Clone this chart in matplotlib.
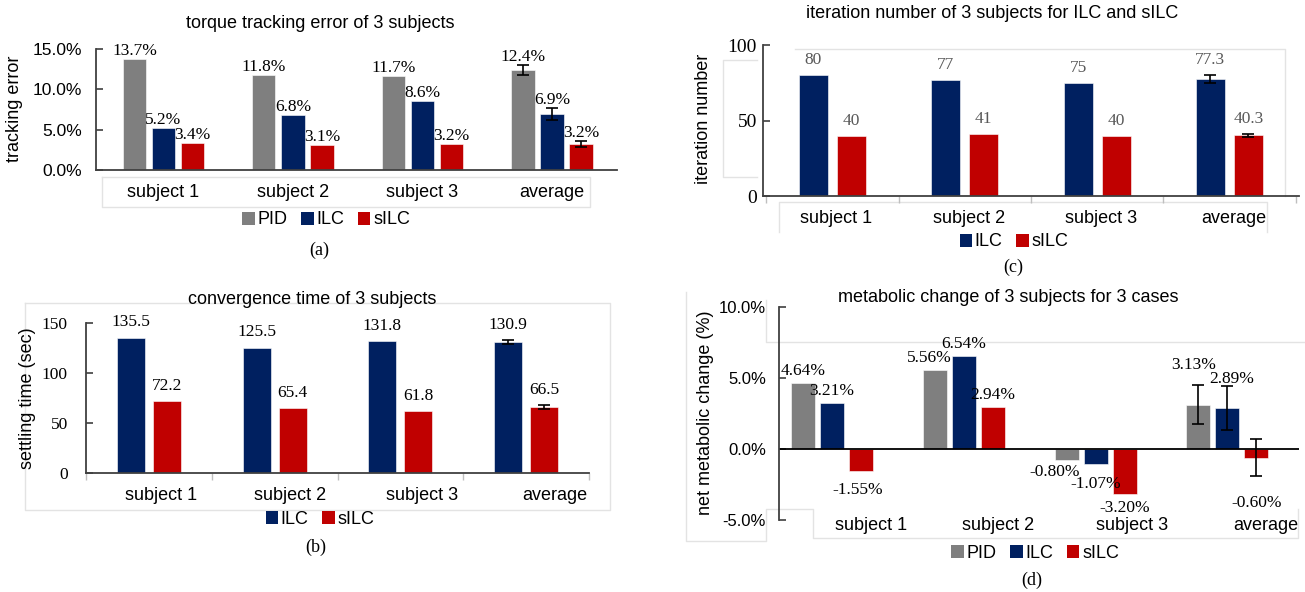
import matplotlib
matplotlib.use("Agg")
import matplotlib.pyplot as plt
from matplotlib.patches import Patch
from matplotlib.lines import Line2D
import numpy as np

# ---------------------------------------------------------------- data
categories = ["subject 1", "subject 2", "subject 3", "average"]

# (a) torque tracking error (%)
track_pid = [13.7, 11.8, 11.7, 12.4]
track_ilc = [5.2, 6.8, 8.6, 6.9]
track_silc = [3.4, 3.1, 3.2, 3.2]
track_pid_sd = [0, 0, 0, 0.6]
track_ilc_sd = [0, 0, 0, 0.75]
track_silc_sd = [0, 0, 0, 0.35]

# (b) convergence / settling time (sec)
settle_ilc = [135.5, 125.5, 131.8, 130.9]
settle_silc = [72.2, 65.4, 61.8, 66.5]
settle_ilc_sd = [0, 0, 0, 2.2]
settle_silc_sd = [0, 0, 0, 2.0]

# (c) iteration number
iter_ilc = [80, 77, 75, 77.3]
iter_silc = [40, 41, 40, 40.3]
iter_ilc_sd = [0, 0, 0, 2.6]
iter_silc_sd = [0, 0, 0, 0.9]

# (d) net metabolic change (%)
meta_pid = [4.64, 5.56, -0.80, 3.13]
meta_ilc = [3.21, 6.54, -1.07, 2.89]
meta_silc = [-1.55, 2.94, -3.20, -0.60]
meta_pid_sd = [0, 0, 0, 1.37]
meta_ilc_sd = [0, 0, 0, 1.55]
meta_silc_sd = [0, 0, 0, 1.3]

# ---------------------------------------------------------------- style
W, H = 1305, 592
SANS = "Liberation Sans"
SERIF = "Liberation Serif"
C_PID = "#7f7f7f"
C_ILC = "#002060"
C_SILC = "#c00000"
AXIS_C = "#404040"
FAINT = "#e3e3e3"
VALUE_SIZE = 12.5

fig = plt.figure(figsize=(W / 100, H / 100), dpi=100)


def px_rect(left, top, right, bottom):
    return [left / W, 1 - bottom / H, (right - left) / W, (bottom - top) / H]


def fx(x):
    return x / W


def fy(y):
    return 1 - y / H


def pt(px):
    return px * 72 / 100


def faint_path(points):
    xs = [fx(p[0]) for p in points]
    ys = [fy(p[1]) for p in points]
    fig.add_artist(Line2D(xs, ys, color=FAINT, lw=1.0, zorder=0))


def draw_group(ax, series, sds, colors, offsets, width, fmt, label_color,
               up_px, down_px, nudges=None):
    """Bars, error bars and value labels; nudges shift single labels (px)."""
    nudges = nudges or {}
    pos = np.arange(len(categories))
    for k, (vals, sd, col, off) in enumerate(zip(series, sds, colors,
                                                 offsets)):
        x = pos + off
        ax.bar(x, vals, width=width, color=col, edgecolor="white",
               linewidth=0.4, zorder=2)
        sd = np.asarray(sd, dtype=float)
        m = sd > 0
        if m.any():
            ax.errorbar(x[m], np.asarray(vals)[m], yerr=sd[m], fmt="none",
                        ecolor="black", elinewidth=1.2, capsize=4,
                        capthick=1.2, zorder=3)
        for i, (xi, v, s) in enumerate(zip(x, vals, sd)):
            if v >= 0:
                anchor, dy = v + s, up_px
            else:
                anchor, dy = v - s, -down_px
            ndx, ndy = nudges.get((k, i), (0, 0))
            ax.annotate(fmt(v), xy=(xi, anchor),
                        xytext=(pt(ndx), pt(dy - ndy)),
                        textcoords="offset points", ha="center", va="center",
                        fontsize=VALUE_SIZE, family=SERIF, color=label_color,
                        zorder=4)


def style_axis(ax, ylim, ticks, tick_fmt, tick_family, tick_size, tick_pad):
    ax.set_ylim(*ylim)
    ax.set_yticks(ticks)
    ax.set_yticklabels([tick_fmt(t) for t in ticks], family=tick_family,
                       fontsize=tick_size)
    ax.tick_params(axis="y", direction="in", length=5, width=1.2,
                   color=AXIS_C, pad=tick_pad)
    for s in ("top", "right"):
        ax.spines[s].set_visible(False)
    ax.spines["left"].set_color(AXIS_C)
    ax.spines["left"].set_linewidth(1.3)
    ax.spines["bottom"].set_color(AXIS_C)
    ax.spines["bottom"].set_linewidth(1.3)
    ax.set_facecolor("none")


def y_title(text, cx, cy):
    fig.text(fx(cx), fy(cy), text, rotation=90, ha="center", va="center",
             family=SANS, fontsize=13)


def cat_labels(ax, xs, y_axes):
    ax.set_xticks([])
    tr = ax.get_xaxis_transform()
    for x, c in zip(xs, categories):
        ax.text(x, y_axes, c, transform=tr, ha="center", va="center",
                family=SANS, fontsize=13, clip_on=False)


def boundary_ticks(ax):
    ax.set_xticks([-0.5, 0.5, 1.5, 2.5, 3.5], minor=True)
    ax.tick_params(axis="x", which="minor", direction="out", length=5,
                   color="#bfbfbf", width=1.0)


def legend(names, colors, cx, cy):
    handles = [Patch(facecolor=c, edgecolor="none", label=n)
               for n, c in zip(names, colors)]
    fig.legend(handles=handles, loc="center",
               bbox_to_anchor=(fx(cx), fy(cy)), ncol=len(handles),
               frameon=False, prop={"family": SANS, "size": 13},
               handlelength=0.7, handleheight=0.7, handletextpad=0.15,
               columnspacing=0.75, borderaxespad=0, borderpad=0)


def heading(text, cx, cy, size=13):
    fig.text(fx(cx), fy(cy), text, ha="center", va="center", family=SANS,
             fontsize=size)


def caption(text, cx, cy):
    fig.text(fx(cx), fy(cy), text, ha="center", va="center", family=SERIF,
             fontsize=13)


pos = np.arange(len(categories))

# ---------------------------------------------------------------- faint frames
faint_path([(102, 177), (590, 177), (590, 207), (102, 207), (102, 177)])
faint_path([(779, 232), (779, 202), (1267, 202), (1267, 232)])
faint_path([(757, 60), (723, 60), (723, 177), (757, 177)])
faint_path([(795, 49), (1285, 49), (1285, 196)])
faint_path([(25, 303), (610, 303), (610, 510), (25, 510), (25, 303)])
faint_path([(686, 292), (686, 541), (766, 541), (766, 509), (813, 509),
            (813, 538), (1298, 538), (1298, 509)])
faint_path([(766, 300), (766, 342), (1305, 342)])

# ---------------------------------------------------------------- (a)
ax_a = fig.add_axes(px_rect(96, 49, 617, 170))
ax_a.set_xlim(-0.521, 3.502)
draw_group(ax_a, [track_pid, track_ilc, track_silc],
           [track_pid_sd, track_ilc_sd, track_silc_sd],
           [C_PID, C_ILC, C_SILC], [-0.224, 0.0, 0.224], 0.178,
           lambda v: f"{v:.1f}%", "black", 8, 14)
style_axis(ax_a, (0, 15), [0, 5, 10, 15], lambda t: f"{t:.1f}%", SANS, 12.5,
           10)
ax_a.tick_params(axis="x", length=0)
cat_labels(ax_a, pos, -0.19)
y_title("tracking error", 15, 109)
heading("torque tracking error of 3 subjects", 320, 23)
legend(["PID", "ILC", "sILC"], [C_PID, C_ILC, C_SILC], 326, 220)
caption("(a)", 319, 250)

# ---------------------------------------------------------------- (c)
ax_c = fig.add_axes(px_rect(763, 45, 1299, 196))
ax_c.set_xlim(-0.525, 3.526)
draw_group(ax_c, [iter_ilc, iter_silc], [iter_ilc_sd, iter_silc_sd],
           [C_ILC, C_SILC], [-0.1436, 0.1436], 0.219,
           lambda v: f"{v:g}", "#595959", 15, 14)
style_axis(ax_c, (0, 100), [0, 50, 100], lambda t: f"{t:g}", SERIF, 14, 4.3)
cat_labels(ax_c, pos + 0.03, -0.146)
boundary_ticks(ax_c)
y_title("iteration number", 703, 119)
heading("iteration number of 3 subjects for ILC and sILC", 992, 13)
legend(["ILC", "sILC"], [C_ILC, C_SILC], 1014, 242)
caption("(c)", 1013, 267)

# ---------------------------------------------------------------- (b)
ax_b = fig.add_axes(px_rect(86, 323, 589, 473))
ax_b.set_xlim(-0.492, 3.5)
draw_group(ax_b, [settle_ilc, settle_silc], [settle_ilc_sd, settle_silc_sd],
           [C_ILC, C_SILC], [-0.143, 0.143], 0.222,
           lambda v: f"{v:.1f}", "black", 15, 14)
style_axis(ax_b, (0, 150), [0, 50, 100, 150], lambda t: f"{t:g}", SERIF,
           12.5, 13)
cat_labels(ax_b, [0.10, 1.12, 2.17, 3.23], -0.147)
boundary_ticks(ax_b)
y_title("settling time (sec)", 27, 398)
heading("convergence time of 3 subjects", 312, 300)
legend(["ILC", "sILC"], [C_ILC, C_SILC], 320, 519)
caption("(b)", 316, 547)

# ---------------------------------------------------------------- (d)
ax_d = fig.add_axes(px_rect(779, 307, 1299, 520))
ax_d.set_xlim(-0.402, 3.543)
draw_group(ax_d, [meta_pid, meta_ilc, meta_silc],
           [meta_pid_sd, meta_ilc_sd, meta_silc_sd],
           [C_PID, C_ILC, C_SILC], [-0.22, 0.0, 0.22], 0.182,
           lambda v: f"{v:.2f}%", "black", 12, 14,
           nudges={(0, 1): (-5, 0), (0, 2): (-12, -2), (1, 2): (0, 6),
                   (0, 3): (-5, -8), (1, 3): (4, 5), (2, 3): (0, 13),
                   (2, 0): (-3, 5)})
style_axis(ax_d, (-5, 10), [-5, 0, 5, 10], lambda t: f"{t:.1f}%", SANS, 12,
           9.4)
ax_d.spines["bottom"].set_visible(False)
ax_d.axhline(0, color="black", lw=1.3, zorder=2.5)
ax_d.tick_params(axis="x", length=0)
cat_labels(ax_d, [0.30, 1.26, 2.28, 3.29], -0.028)
y_title("net metabolic change (%)", 705, 413)
heading("metabolic change of 3 subjects for 3 cases", 1008, 297)
legend(["PID", "ILC", "sILC"], [C_PID, C_ILC, C_SILC], 1035, 553)
caption("(d)", 1032, 580)

fig.savefig("out.png", dpi=100)
